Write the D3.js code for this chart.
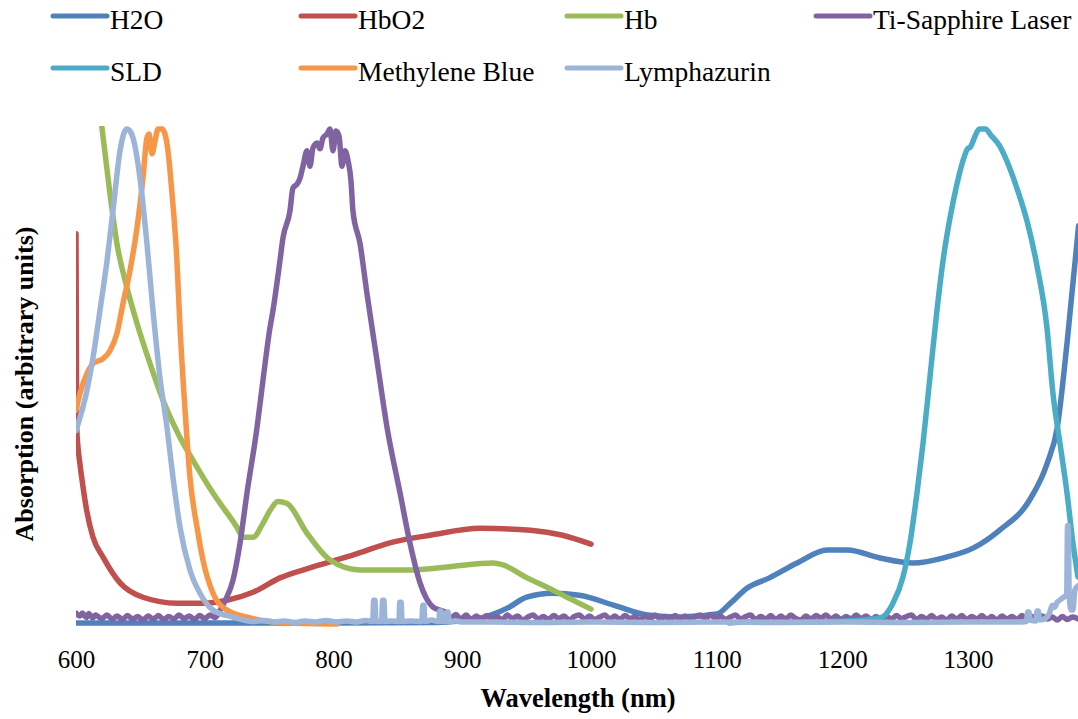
<!DOCTYPE html>
<html lang="en">
<head>
<meta charset="UTF-8">
<title>Absorption spectra</title>
<script src="https://cdn.jsdelivr.net/npm/d3@7"></script>
<style>
  body { margin: 0; background: #fff; }
  svg text { font-family: "Liberation Serif", "Times New Roman", serif; fill: #000; }
</style>
</head>
<body>
<script>
// series names and colours, in draw order
const seriesNames = ["H2O", "HbO2", "Hb", "Ti-Sapphire Laser", "SLD", "Methylene Blue", "Lymphazurin"];
const seriesColors = ["#4f81bd", "#c0504d", "#9bbb59", "#8064a2", "#4bacc6", "#f79646", "#9db4d9"];
const xTicks = [600, 700, 800, 900, 1000, 1100, 1200, 1300];

// [wavelength nm, absorption a.u.]
const h2o = [[600,0.4],[700,0.4],[800,0.4],[880,0.5],[898,0.8],[914,1.4],[935,3.4],[950,5.6],[970,6.4],
  [991,6.0],[1018,4.0],[1045,2.0],[1071,1.6],[1100,2.2],[1111,4.4],[1124,7.4],[1142,9.5],[1164,12.5],
  [1188,15.1],[1204,15.1],[1230,13.5],[1256,12.5],[1283,13.7],[1304,15.5],[1325,19.1],[1349,25.2],
  [1363,32.6],[1371,39.8],[1379,57.3],[1388,80.5]];

const hbo2 = [[600,78.9],[600.5,40],[603,32.6],[604.4,29.8],[608.3,23.1],[613.2,17.7],[621,13.7],
  [634.2,8.5],[652,5.6],[678.4,4.4],[698.6,4.4],[717.3,5.0],[737.5,6.6],[758.4,9.5],[784,11.7],
  [815,14.1],[846,16.7],[875,18.1],[914,19.5],[953,19.1],[978,18.1],[1000,16.3]];

const hb = [[600,150],[610,120],[615,112],[620.2,100.2],[626.4,86.9],[631.8,76.9],[639.6,68.0],
  [647.4,60.8],[657.5,52.7],[667.6,45.3],[680.8,37.8],[690.9,33.2],[706.4,26.6],[725,19.7],
  [729.7,17.7],[737.5,17.7],[745.2,20.5],[750.7,23.1],[756.9,24.9],[763.9,24.5],[779.4,18.5],
  [797.3,13.1],[820.6,11.1],[859.4,11.1],[888.2,11.7],[923.9,12.5],[931.7,12.1],[950.3,9.5],
  [965.8,7.6],[981.4,5.6],[1000,3.2]];

const tiSapphire = [[600,2.4],[603,1.8],[605,2.4],[608,1.5],[610,2.3],[613,1.4],[615,2.0],[620,1.3],
  [624,2.0],[628,1.2],[632,1.8],[636,1.1],[640,1.9],[644,1.2],[648,1.7],[652,1.0],[656,1.8],[660,1.2],
  [664,1.9],[668,1.1],[672,1.7],[676,1.2],[680,2.0],[684,1.3],[688,1.8],[692,1.1],[696,1.9],[700,1.3],
  [704,2.0],[708,1.5],[712,3.0],[716,5.0],
  [721.9,9.0],[727.4,16.5],[732.8,26.6],[740.6,39.8],[745.2,49.3],[750.7,60.0],[753,63.4],[758.4,73.4],
  [760.8,78.1],[766.2,83.5],[768.5,88.1],[771.7,88.9],[774,90.1],[776.3,92.5],[779.4,95.6],[781.7,92.5],
  [784.1,96.2],[787.2,97.2],[789.5,96.0],[791.8,98.2],[795,99.0],[797.3,100],[799.6,95.6],[801.9,99.6],
  [804.3,98.6],[806.6,92.5],[808.9,95.6],[811.3,93.6],[813.6,89.5],[815.1,83.5],[820.6,76.9],
  [826,66.8],[833.8,53.3],[841.6,39.8],[851.7,26.6],[859.4,16.5],[867.2,8.5],[877.3,3.6],[888.2,2.4],
  [891,1.4],[895,2.1],[899,1.2],[903,2.0],[907,1.1],[911,1.8],[915,1.0],[919,1.9],[923,1.2],[927,1.7],
  [931,1.0],[935,2.0],[939,1.3],[943,1.8],[947,1.0],[951,1.6],[955,2.0],[959,1.2],[963,1.7],[967,1.1],
  [971,1.9],[975,1.3],[979,1.8],[983,1.0],[987,1.7],[991,2.0],[995,1.2],[999,1.8],[1003,1.1],[1007,1.6],
  [1011,2.0],[1015,1.2],[1019,1.8],[1023,1.1],[1027,1.9],[1031,1.3],[1035,1.7],[1039,1.0],[1043,1.8],
  [1047,1.2],[1051,2.0],[1055,1.3],[1059,1.7],[1063,1.1],[1067,1.9],[1071,1.2],[1075,1.8],[1079,1.1],
  [1083,1.7],[1087,2.0],[1091,1.2],[1095,2.1],[1099,1.3],[1103,1.8],[1107,1.1],[1111,1.6],[1115,2.0],
  [1119,1.2],[1123,1.7],[1127,2.0],[1131,1.1],[1135,1.7],[1139,1.2],[1143,1.9],[1147,1.1],[1151,1.8],
  [1155,1.2],[1159,2.0],[1163,1.3],[1167,1.0],[1171,1.8],[1175,1.2],[1179,1.9],[1183,1.4],[1187,2.0],
  [1191,1.2],[1195,1.8],[1199,1.1],[1203,1.7],[1207,1.2],[1211,2.0],[1215,1.3],[1219,1.8],[1223,1.1],
  [1227,1.7],[1231,1.0],[1235,1.8],[1239,1.2],[1243,1.9],[1247,1.3],[1251,1.7],[1255,2.0],[1259,1.1],
  [1263,1.7],[1267,1.2],[1271,1.9],[1275,1.1],[1279,1.6],[1283,1.0],[1287,1.8],[1291,1.2],[1295,1.9],
  [1299,1.1],[1303,1.7],[1307,1.2],[1311,1.9],[1315,1.1],[1319,1.7],[1323,1.0],[1327,1.8],[1331,1.2],
  [1335,1.7],[1339,1.1],[1343,1.9],[1347,1.2],[1351,1.7],[1355,1.1],[1359,1.8],[1363,1.2],[1367,1.6],
  [1371,1.0],[1375,1.7],[1379,1.1],[1383,1.6],[1388,1.2]];

const sld = [[1110,0.4],[1124,0.6],[1164,0.6],[1206,0.8],[1230,1.4],[1240.3,4.4],[1248.3,9.7],
  [1253.8,16.5],[1259.4,26.6],[1264.2,36.6],[1269.7,49.9],[1275.3,63.4],[1280.1,73.4],[1285.7,82.1],
  [1291.2,88.9],[1296,93.6],[1299.6,96.0],[1302,96.4],[1305.5,98.5],[1309,100],[1314,100],
  [1318,98.8],[1325.4,96.5],[1331,93.5],[1339,88.0],[1346.9,81.5],[1354.9,72.4],[1362.8,60.0],[1367.6,46.7],
  [1373.2,36.6],[1378.8,26.6],[1383.5,16.5],[1387.5,9.7]];

const methyleneBlue = [[600,43.3],[603.1,46.7],[608.5,50.7],[613.2,52.7],[621,53.7],[626.4,55.3],
  [631.8,58.8],[636.5,64.8],[641.9,71.4],[647.4,80.1],[652,90.1],[655.1,98.2],[656.7,99.0],[659,95.0],
  [661.4,97.6],[663.7,100],[666.8,100],[670.7,97.0],[674.6,86.9],[678.4,73.4],[680.8,60.0],[684.7,43.3],
  [688.5,29.8],[694,19.7],[698.6,13.1],[706.4,6.4],[717.3,3.0],[732.8,1.6],[746.8,0.8],[766.2,0.4],
  [802.7,0.2]];

const lymphazurin = [[600,39.2],[608.5,47.3],[613.2,53.9],[618.6,63.4],[624.1,73.4],[628.7,83.5],
  [634.2,95.6],[637.3,99.2],[639.6,100],[641.9,99.6],[644.3,98.2],[649.7,90.1],[655.1,76.9],
  [659.8,63.4],[665.2,49.9],[670.7,39.8],[675.3,29.8],[680.8,19.7],[688.5,11.1],[696.3,6.4],
  [706.4,3.0],[721.9,1.6],[730,1.0],[738,0.7],[746,0.9],[754,0.6],[762,0.8],[770,0.5],[778,0.8],
  [786,0.6],[794,0.9],[802,0.6],[810,0.8],[818,0.6],[825,0.9],[830.5,0.7],[831.2,5.0],[832.2,5.0],
  [833,0.7],[837.4,0.7],[838.1,5.0],[839.1,5.0],[840,0.7],[845,0.8],[850.8,0.7],[851.5,4.6],
  [852.5,4.6],[853.3,0.7],[860,0.8],[868.6,0.7],[869.3,4.0],[870.3,4.0],[871,0.7],[876,1.0],
  [881.8,0.7],[882.5,2.8],[883.5,2.8],[884.2,0.7],[887.2,0.7],[888,2.6],[889,2.6],[889.8,0.7],
  [895,0.8],[900,0.6],[920,0.6],[960,0.5],[1000,0.6],[1050,0.5],[1100,0.6],[1150,0.5],[1200,0.6],
  [1250,0.5],[1300,0.6],[1340,0.6],[1346.5,0.7],[1347.5,2.6],[1348.5,2.6],[1349.5,1.0],[1354,0.8],
  [1355,2.8],[1356,2.8],[1357,1.0],[1362,1.4],[1365,2.5],[1367,4.0],[1369,3.6],[1371,4.6],[1373,5.0],
  [1376,5.6],[1378.5,6.0],[1379.2,20],[1379.8,20],[1380.5,6.0],[1382,3.0],[1383.5,3.0],[1385,7.0],
  [1388,8.0]];

const seriesData = [h2o, hbo2, hb, tiSapphire, sld, methyleneBlue, lymphazurin];

const width = 1078, height = 719;
const plot = { left: 76, right: 1078, top: 126, bottom: 625 };
const serif = '"Liberation Serif", "Times New Roman", serif';

const svg = d3.select("body").append("svg")
  .attr("width", width)
  .attr("height", height);

// axis labels are not evenly spaced in the picture, so use a piecewise scale
const x = d3.scaleLinear()
  .domain([600, 1000, 1300, 1388])
  .range([76, 591, 968, 1078.6]);

const y = d3.scaleLinear()
  .domain([0, 100])
  .range([plot.bottom, 129]);

svg.append("clipPath").attr("id", "clip")
  .append("rect")
  .attr("x", plot.left).attr("y", plot.top)
  .attr("width", plot.right - plot.left).attr("height", 640 - plot.top);

const line = d3.line()
  .x(d => x(d[0]))
  .y(d => y(d[1]))
  .curve(d3.curveMonotoneX);

svg.append("g").attr("clip-path", "url(#clip)")
  .selectAll("path")
  .data(seriesData)
  .join("path")
  .attr("d", line)
  .attr("fill", "none")
  .attr("stroke", (d, i) => seriesColors[i])
  .attr("stroke-width", 5.5)
  .attr("stroke-linejoin", "round")
  .attr("stroke-linecap", "round");

// x axis, labels only
const xAxis = svg.append("g")
  .attr("transform", "translate(0," + plot.bottom + ")")
  .call(d3.axisBottom(x).tickValues(xTicks).tickSize(0).tickFormat(d3.format("d")));
xAxis.attr("font-family", null).attr("font-size", null);
xAxis.select(".domain").remove();
xAxis.selectAll("text")
  .attr("y", 43).attr("dy", null)
  .attr("font-family", serif)
  .attr("font-size", 25);

svg.append("text")
  .attr("x", 578).attr("y", 707)
  .attr("text-anchor", "middle")
  .attr("font-family", serif)
  .attr("font-size", 26.5).attr("font-weight", "bold")
  .text("Wavelength (nm)");

svg.append("text")
  .attr("transform", "translate(33,384) rotate(-90)")
  .attr("text-anchor", "middle")
  .attr("font-family", serif)
  .attr("font-size", 26).attr("font-weight", "bold")
  .text("Absorption (arbitrary units)");

// legend, two rows
const legendX = [53, 301, 567, 816];
const legendY = [16, 68];
const legend = svg.append("g")
  .selectAll("g")
  .data(seriesNames)
  .join("g")
  .attr("transform", (d, i) => "translate(" + legendX[i % 4] + "," + legendY[Math.floor(i / 4)] + ")");

legend.append("line")
  .attr("x1", 0).attr("x2", 54)
  .attr("stroke", (d, i) => seriesColors[i])
  .attr("stroke-width", 5)
  .attr("stroke-linecap", "round");

legend.append("text")
  .attr("x", 57).attr("y", 13)
  .attr("font-family", serif)
  .attr("font-size", 27.5)
  .text(d => d);
</script>
</body>
</html>
